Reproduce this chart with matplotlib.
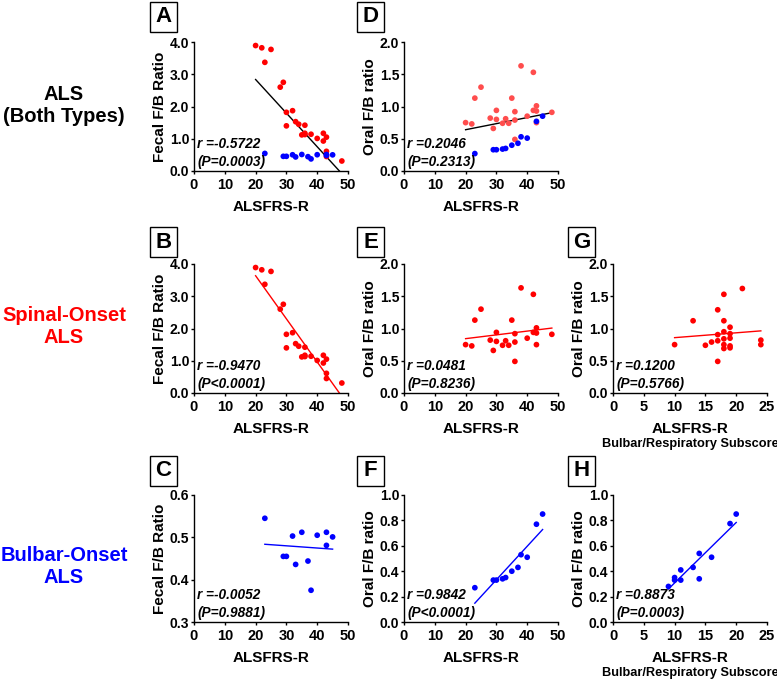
import matplotlib
matplotlib.use("Agg")
from matplotlib import pyplot as plt
from matplotlib.patches import Rectangle
import numpy as np

# spinal-onset patients
spinal_als = [20, 22, 23, 25, 28, 29, 30, 30, 32, 33, 34, 35, 36, 36, 36, 38, 40, 42, 42, 43, 43, 43, 48]
spinal_fecal = [3.89, 3.82, 3.37, 3.77, 2.60, 2.75, 1.82, 1.40, 1.87, 1.53, 1.45, 1.12, 1.42, 1.17, 1.13,
                1.14, 1.01, 1.17, 0.93, 1.05, 0.61, 0.45, 0.31]
spinal_oral = [0.75, 0.73, 1.13, 1.30, 0.82, 0.66, 0.94, 0.80, 0.74, 0.81, 0.74, 1.13, 0.92, 0.79, 0.49,
               1.63, 0.85, 1.53, 0.94, 1.01, 0.93, 0.75, 0.91]
spinal_sub = [10, 13, 15, 16, 17, 17, 17, 17, 18, 18, 18, 18, 18, 18, 19, 19, 19, 19, 19, 21, 24, 24]
spinal_sub_oral = [0.75, 1.12, 0.74, 0.79, 1.29, 0.905, 0.81, 0.49, 1.53, 1.12, 0.95, 0.84, 0.75, 0.69,
                   1.02, 0.92, 0.85, 0.73, 0.70, 1.62, 0.82, 0.75]

# bulbar-onset patients
bulbar_als = [23, 29, 30, 32, 33, 35, 37, 38, 40, 43, 43, 45]
bulbar_fecal = [0.545, 0.455, 0.455, 0.503, 0.436, 0.512, 0.444, 0.375, 0.505, 0.512, 0.481, 0.501]
bulbar_oral_als = [23, 29, 30, 32, 33, 35, 37, 38, 40, 43, 45]
bulbar_oral = [0.27, 0.33, 0.33, 0.34, 0.35, 0.40, 0.43, 0.53, 0.51, 0.77, 0.85]
bulbar_sub = [9, 10, 10, 11, 11, 13, 14, 14, 16, 19, 20]
bulbar_sub_oral = [0.28, 0.35, 0.33, 0.41, 0.33, 0.43, 0.54, 0.34, 0.51, 0.775, 0.85]

stats = {
    "A": "r =-0.5722\n(P=0.0003)", "D": "r =0.2046\n(P=0.2313)",
    "B": "r =-0.9470\n(P<0.0001)", "E": "r =0.0481\n(P=0.8236)", "G": "r =0.1200\n(P=0.5766)",
    "C": "r =-0.0052\n(P=0.9881)", "F": "r =0.9842\n(P<0.0001)", "H": "r =0.8873\n(P=0.0003)",
}

RED = "#ff0000"
LRED = "#ff4d4d"
BLUE = "#0000ff"

plt.rcParams["font.family"] = ["Liberation Sans", "DejaVu Sans"]
plt.rcParams["font.weight"] = "bold"

W, H = 777, 685
fig = plt.figure(figsize=(W / 100, H / 100), dpi=100)


def px_axes(l, t, w, h):
    return fig.add_axes([l / W, 1 - (t + h) / H, w / W, h / H])


def style(ax, xmax, xstep, ylim, ystep, xlabel, ylabel, sub=False):
    ax.set_xlim(0, xmax)
    ax.set_ylim(*ylim)
    ax.set_xticks(np.arange(0, xmax + 0.01, xstep))
    yt = np.arange(ylim[0], ylim[1] + 1e-6, ystep)
    ax.set_yticks(yt)
    ax.set_yticklabels(["{:.1f}".format(v) for v in yt])
    for s in ["top", "right"]:
        ax.spines[s].set_visible(False)
    for s in ["left", "bottom"]:
        ax.spines[s].set_linewidth(1.0)
    ax.tick_params(length=2.5, width=1.0)
    ax.tick_params(axis="x", pad=2.5, labelsize=10.5)
    ax.tick_params(axis="y", pad=1, labelsize=10)
    for lab in ax.get_xticklabels() + ax.get_yticklabels():
        lab.set_fontweight("bold")
    ax.set_xlabel(xlabel, fontsize=11, fontweight="bold", labelpad=6)
    ax.set_ylabel(ylabel, fontsize=11, fontweight="bold", labelpad=2)
    if sub:
        ax.annotate("Bulbar/Respiratory Subscore", xy=(0.5, 0), xycoords=ax.xaxis.label,
                    xytext=(0, -1), textcoords="offset points", ha="center", va="top",
                    fontsize=9.2, fontweight="bold")


def fit_line(ax, x, y, color):
    x = np.asarray(x, float)
    y = np.asarray(y, float)
    k, b = np.polyfit(x, y, 1)
    xs = np.array([x.min(), x.max()])
    ax.plot(xs, k * xs + b, color=color, lw=1.0, zorder=2)


def dots(ax, x, y, color):
    ax.scatter(x, y, s=17, color=color, edgecolors="none", zorder=3, clip_on=False)


def annot(ax, key):
    ax.text(0.02, 0.015, stats[key], transform=ax.transAxes, ha="left", va="bottom",
            fontsize=9.8, fontweight="bold", style="italic", linespacing=1.35, zorder=4)


cols = [194, 404, 613]
tops = [42, 264, 495]
aw = 154
ah = [129, 129, 127]

# row 1: both types
ax = px_axes(cols[0], tops[0], aw, ah[0])
dots(ax, spinal_als, spinal_fecal, RED)
dots(ax, bulbar_als, bulbar_fecal, BLUE)
fit_line(ax, spinal_als + bulbar_als, spinal_fecal + bulbar_fecal, "black")
style(ax, 50, 10, (0, 4), 1, "ALSFRS-R", "Fecal F/B Ratio")
annot(ax, "A")

ax = px_axes(cols[1], tops[0], aw, ah[0])
dots(ax, spinal_als, spinal_oral, LRED)
dots(ax, bulbar_oral_als, bulbar_oral, BLUE)
fit_line(ax, spinal_als + bulbar_oral_als, spinal_oral + bulbar_oral, "black")
style(ax, 50, 10, (0, 2), 0.5, "ALSFRS-R", "Oral F/B ratio")
annot(ax, "D")

# row 2: spinal onset
ax = px_axes(cols[0], tops[1], aw, ah[1])
dots(ax, spinal_als, spinal_fecal, RED)
fit_line(ax, spinal_als, spinal_fecal, RED)
style(ax, 50, 10, (0, 4), 1, "ALSFRS-R", "Fecal F/B Ratio")
annot(ax, "B")

ax = px_axes(cols[1], tops[1], aw, ah[1])
dots(ax, spinal_als, spinal_oral, RED)
fit_line(ax, spinal_als, spinal_oral, RED)
style(ax, 50, 10, (0, 2), 0.5, "ALSFRS-R", "Oral F/B ratio")
annot(ax, "E")

ax = px_axes(cols[2], tops[1], aw, ah[1])
dots(ax, spinal_sub, spinal_sub_oral, RED)
fit_line(ax, spinal_sub, spinal_sub_oral, RED)
style(ax, 25, 5, (0, 2), 0.5, "ALSFRS-R", "Oral F/B ratio", sub=True)
annot(ax, "G")

# row 3: bulbar onset
ax = px_axes(cols[0], tops[2], aw, ah[2])
dots(ax, bulbar_als, bulbar_fecal, BLUE)
fit_line(ax, bulbar_als, bulbar_fecal, BLUE)
style(ax, 50, 10, (0.3, 0.6), 0.1, "ALSFRS-R", "Fecal F/B Ratio")
annot(ax, "C")

ax = px_axes(cols[1], tops[2], aw, ah[2])
dots(ax, bulbar_oral_als, bulbar_oral, BLUE)
fit_line(ax, bulbar_oral_als, bulbar_oral, BLUE)
style(ax, 50, 10, (0, 1), 0.2, "ALSFRS-R", "Oral F/B ratio")
annot(ax, "F")

ax = px_axes(cols[2], tops[2], aw, ah[2])
dots(ax, bulbar_sub, bulbar_sub_oral, BLUE)
fit_line(ax, bulbar_sub, bulbar_sub_oral, BLUE)
style(ax, 25, 5, (0, 1), 0.2, "ALSFRS-R", "Oral F/B ratio", sub=True)
annot(ax, "H")

# panel letters in boxes
letter_x = [150, 357, 568]
letter_y = [2, 227, 456]
letters = [["A", "D", None], ["B", "E", "G"], ["C", "F", "H"]]
for r in range(3):
    for c in range(3):
        if letters[r][c] is None:
            continue
        x0, y0, bw, bh = letter_x[c], letter_y[r], 27, 30
        fig.add_artist(Rectangle((x0 / W, 1 - (y0 + bh) / H), bw / W, bh / H,
                                 transform=fig.transFigure, fill=False, ec="black", lw=1.0))
        fig.text((x0 + bw / 2) / W, 1 - (y0 + bh / 2) / H, letters[r][c], ha="center", va="center",
                 fontsize=16, fontweight="bold")

# row titles
fig.text(64 / W, 1 - 105 / H, "ALS\n(Both Types)", ha="center", va="center",
         fontsize=14.5, fontweight="bold", color="black", linespacing=1.2)
fig.text(64 / W, 1 - 326.5 / H, "Spinal-Onset\nALS", ha="center", va="center",
         fontsize=14.5, fontweight="bold", color=RED, linespacing=1.2)
fig.text(64 / W, 1 - 566.5 / H, "Bulbar-Onset\nALS", ha="center", va="center",
         fontsize=14.5, fontweight="bold", color=BLUE, linespacing=1.2)

fig.savefig("out.png", dpi=100)
